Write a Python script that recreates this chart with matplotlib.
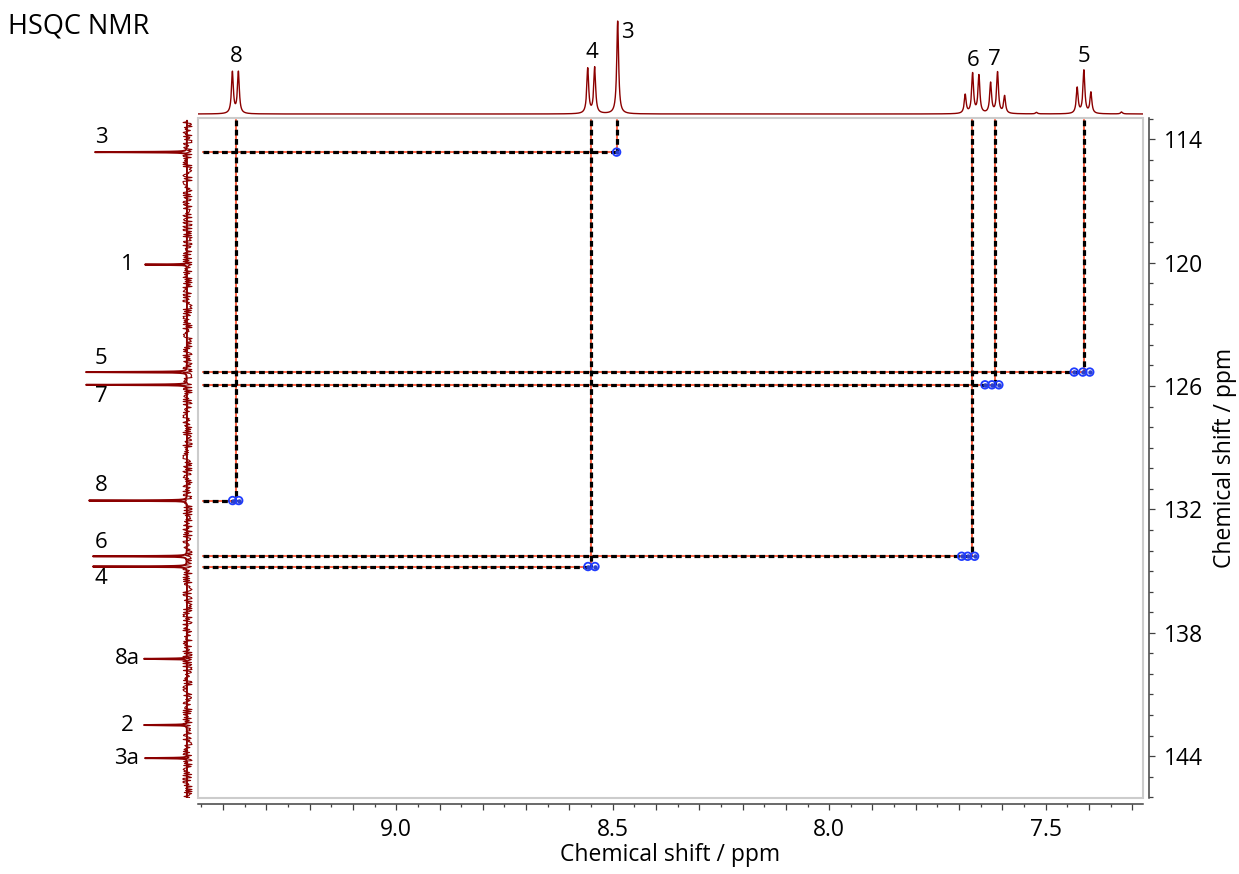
import numpy as np
import matplotlib.pyplot as plt
from matplotlib.patches import Rectangle
from matplotlib.ticker import MultipleLocator, FuncFormatter

plt.rcParams['font.family'] = ['Open Sans', 'DejaVu Sans']

# 1H projection: individual lines (ppm) and their heights
h_lines = [9.3785, 9.3647, 8.5577, 8.5416, 8.4885,
           7.6857, 7.6686, 7.6540, 7.6270, 7.6110, 7.5947,
           7.4270, 7.4115, 7.3953, 7.5210, 7.3245]
h_heights = [41.5, 41.5, 45, 46, 93,
             18.7, 39.7, 37.7, 30.3, 41, 17.3,
             25.7, 43, 21, 1.5, 2]

# assigned proton signals
h_labels = ['8', '4', '3', '6', '7', '5']
h_shift = [9.371, 8.549, 8.489, 7.670, 7.618, 7.411]

# 13C projection
c_labels = ['3', '1', '5', '7', '8', '6', '4', '8a', '2', '3a']
c_shift = [114.62, 120.09, 125.32, 125.94, 131.57, 134.28, 134.78, 139.27, 142.49, 144.10]
c_heights = [92, 42, 101, 101, 98, 94, 94, 43, 43, 42]

# HSQC correlations and the multiplet components of each cross peak
cross_h = [8.489, 8.549, 7.411, 7.670, 7.618, 9.371]
cross_c = [114.62, 134.78, 125.32, 134.28, 125.94, 131.57]
cross_parts = [[8.491],
               [8.557, 8.541],
               [7.434, 7.414, 7.398],
               [7.694, 7.680, 7.664],
               [7.640, 7.624, 7.608],
               [9.378, 9.364]]

W, H = 1239, 874


def box(l, t, r, b):
    return [l / W, 1 - b / H, (r - l) / W, (b - t) / H]


def lorentz(grid, pos, amp, hw):
    out = np.zeros_like(grid)
    for p, a in zip(pos, amp):
        out += a / (1 + ((grid - p) / hw) ** 2)
    return out


xlim = (9.458, 7.275)
ylim = (146.04, 112.96)

fig = plt.figure(figsize=(W / 100, H / 100), dpi=100)
ax = fig.add_axes(box(198, 118, 1143, 798))
ax_top = fig.add_axes(box(198, 14, 1143, 116))
ax_left = fig.add_axes(box(80, 118, 197, 798))

red = '#8b0000'

# --- 1H trace on top
hg = np.linspace(xlim[1], xlim[0], 8000)
hspec = lorentz(hg, h_lines, h_heights, 0.0026)
ax_top.plot(hg, hspec, color=red, lw=1.0)
ax_top.set_xlim(*xlim)
ax_top.set_ylim(-2, 100)
ax_top.axis('off')
top_offsets = {'8': (1, 15), '4': (0, 14), '3': (10, -11),
               '6': (1, 12), '7': (0, 12), '5': (0, 13)}
for lab, s in zip(h_labels, h_shift):
    top = hspec[np.abs(hg - s) < 0.025].max()
    ax_top.annotate(lab, xy=(s, top), xytext=top_offsets[lab],
                    textcoords='offset pixels', ha='center', va='center',
                    fontsize=16)

# --- 13C trace on the left (intensity grows to the left)
cg = np.linspace(113.1, 146.0, 40000)
cspec = lorentz(cg, c_shift, c_heights, 0.012)
noise, = ax_left.plot([0, 0], [113.1, 146.0], color=red, lw=0.8)
noise.set_sketch_params(scale=4.5, length=1.6, randomness=2.2)
ax_left.plot(cspec, cg, color=red, lw=1.4)
ax_left.set_xlim(107, -10)
ax_left.set_ylim(*ylim)
ax_left.axis('off')
side_dy = {'3': 15, '5': 14, '7': -12, '8': 15, '6': 14, '4': -12}
for lab, s, h in zip(c_labels, c_shift, c_heights):
    if h > 60:
        off = (-86, side_dy[lab])
    else:
        off = (-60, 0)
    ax_left.annotate(lab, xy=(0, s), xytext=off, textcoords='offset pixels',
                     ha='center', va='center', fontsize=16)

# --- correlation map
h_start = 9.446
c_start = 113.06
for h, c in zip(cross_h, cross_c):
    for xs, ys in (([h_start, h], [c, c]), ([h, h], [c_start, c])):
        ax.plot(xs, ys, color='#ff4a26', lw=1.2, zorder=2)
        ax.plot(xs, ys, color='black', lw=2.3, dashes=(1.8, 1.1), zorder=3)

for parts, c in zip(cross_parts, cross_c):
    ax.scatter(parts, [c] * len(parts), s=30, facecolors='none',
               edgecolors='#1f3cff', linewidths=1.3, zorder=4)
    ax.scatter(parts, [c] * len(parts), s=5, color='#2a3fd0', zorder=4)

ax.set_xlim(*xlim)
ax.set_ylim(*ylim)
ax.add_patch(Rectangle((0, 0), 1, 1, transform=ax.transAxes, fill=False,
                       ec='#cccccc', lw=1.5, clip_on=False, zorder=5))

for side in ('top', 'left'):
    ax.spines[side].set_visible(False)
ax.spines['bottom'].set_position(('outward', 4))
ax.spines['right'].set_position(('outward', 4.5))
for side in ('bottom', 'right'):
    ax.spines[side].set_color('#404040')
    ax.spines[side].set_linewidth(1.1)

ax.xaxis.set_major_locator(MultipleLocator(0.1))
ax.xaxis.set_minor_locator(MultipleLocator(0.05))
ax.xaxis.set_major_formatter(FuncFormatter(
    lambda v, p: f'{v:.1f}' if abs(v * 2 - round(v * 2)) < 1e-6 else ''))
ax.yaxis.tick_right()
ax.yaxis.set_label_position('right')
ax.yaxis.set_major_locator(MultipleLocator(6))
ax.yaxis.set_minor_locator(MultipleLocator(1))
ax.tick_params(which='both', color='#404040', width=0.9, labelsize=16.5)
ax.tick_params(axis='x', which='major', length=4.3, pad=6)
ax.tick_params(axis='x', which='minor', length=2.5)
ax.tick_params(axis='y', which='major', length=4.3, pad=6)
ax.tick_params(axis='y', which='minor', length=2.9)

ax.set_xlabel('Chemical shift / ppm', fontsize=16.5, labelpad=1)
ax.set_ylabel('Chemical shift / ppm', fontsize=16.5, labelpad=7)

fig.text(8 / W, 1 - 27 / H, 'HSQC NMR', fontsize=19.5, va='center', ha='left')

fig.savefig('out.png', dpi=100)
